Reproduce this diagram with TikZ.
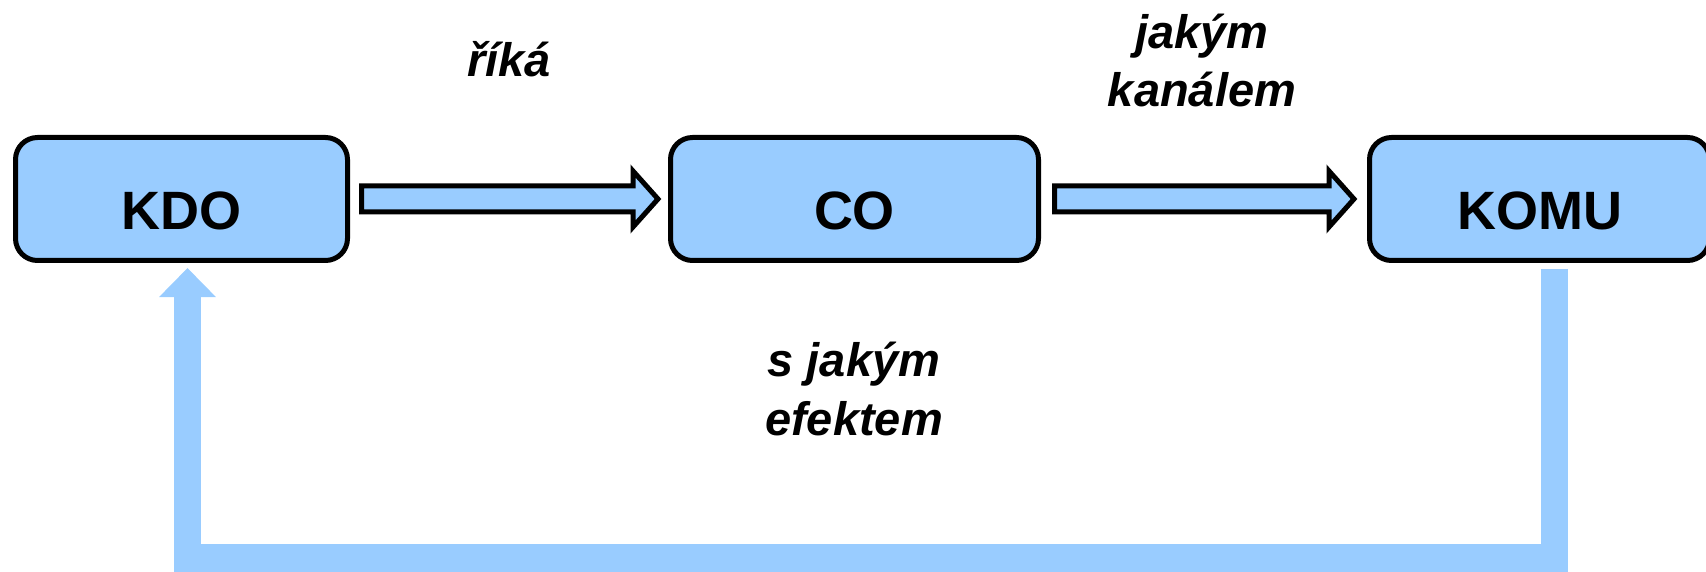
\documentclass[tikz,border=0pt]{standalone}
\usepackage{fontspec}
\setmainfont{Liberation Sans}
\usetikzlibrary{calc,arrows.meta}

\definecolor{boxblue}{RGB}{153,204,255}

\tikzset{
  stage/.style={draw=black, line width=5pt, fill=boxblue, rounded corners=22pt,
    minimum height=123pt, inner sep=0pt, text height=62pt, text depth=0pt,
    font=\fontsize{54}{60}\selectfont\bfseries},
  question/.style={align=center, inner sep=0pt,
    font=\fontsize{47}{58.5}\selectfont\bfseries\itshape},
  barrow/.style={draw=black, line width=5pt, fill=boxblue, line join=miter},
  feedback/.style={draw=boxblue, line width=27.5pt, line join=miter,
    -{Triangle[length=29pt, width=55pt]}}
}

% block arrow from #1 to #2 (shaft half height 13, head half height 28)
\newcommand\blockarrow[2]{%
  \draw[barrow] ($(#1)+(0,-13)$) -- ($(#2)+(-25,-13)$) -- ($(#2)+(-25,-28)$)
    -- (#2) -- ($(#2)+(-25,28)$) -- ($(#2)+(-25,13)$) -- ($(#1)+(0,13)$) -- cycle;}

\begin{document}
\begin{tikzpicture}[x=1pt, y=-1pt]
  \clip (0,0) rectangle (1706,572);

  % the three stages of communication
  \node[stage, minimum width=332pt] (kdo)  at (181.5,199) {KDO};
  \node[stage, minimum width=368pt] (co)   at (854.5,199) {CO};
  \node[stage, minimum width=340pt] (komu) at (1539.5,199) {KOMU};

  % forward block arrows
  \coordinate (a1s) at ($(kdo.east)+(11.5,0)$);
  \coordinate (a1e) at ($(co.west)+(-10,0)$);
  \blockarrow{a1s}{a1e}
  \coordinate (a2s) at ($(co.east)+(13.5,0)$);
  \coordinate (a2e) at ($(komu.west)+(-13,0)$);
  \blockarrow{a2s}{a2e}

  % feedback loop back to the sender
  \coordinate (fbr) at ($(komu.south)+(15,6)$);
  \coordinate (fbl) at ($(kdo.south)+(6,5)$);
  \coordinate (fbb) at (0,558);
  \draw[feedback] (fbr) -- (fbr |- fbb) -- (fbl |- fbb) -- (fbl);

  % questions (base anchor sits on the last line)
  \node[question, anchor=base] (q1) at (509,77) {říká};
  \node[question, anchor=base] (q2) at (1202,107) {jakým\\kanálem};
  \node[question, anchor=base] (q3) at (854,435) {s jakým\\efektem};
\end{tikzpicture}
\end{document}
